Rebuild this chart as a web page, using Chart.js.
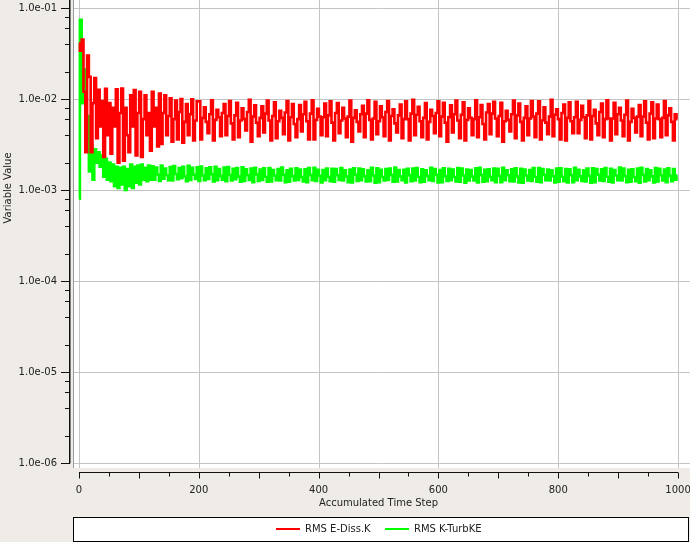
<!DOCTYPE html>
<html>
<head>
<meta charset="utf-8">
<script src="https://cdn.jsdelivr.net/npm/chart.js@4"></script>
<style>
  html, body { margin: 0; padding: 0; background: #efebe7; }
  canvas { display: block; }
</style>
</head>
<body>
<canvas id="residuals" width="690" height="542"></canvas>
<script>
// sampled every STEP time steps, values in units of 1e-3
const STEP = 3;
const UNIT = 1e-3;

const eDissK = [
  41, 34, 45, 12, 2.6, 30, 17.5, 2.6, 9, 17, 3.7, 12.6, 5, 9.5, 2.3,
  12.9, 4, 9, 2.5, 8, 5, 12.8, 2.0, 7, 13, 2.1, 8, 4, 2.6, 11,
  5, 12.5, 2.4, 7, 12, 2.3, 6, 11, 4, 7, 2.7, 12, 5, 8, 3,
  11.5, 3.2, 7, 11, 4, 6.5,
  10.2, 3.4, 6.0, 9.6, 3.6, 7.2, 10.0, 3.3, 5.6, 8.8, 4.0, 6.8, 9.9, 3.5, 5.8, 9.4,
  9.4, 3.6, 6.2, 8.1, 5.6, 4.2, 6.8,
  9.7, 3.5, 5.9, 7.6, 6.3, 3.9, 7.0,
  8.8, 4.0, 6.5, 9.5, 5.4, 3.6, 6.6,
  9.1, 3.8, 5.8, 7.9, 6.0, 4.5, 7.2,
  9.8, 3.4, 6.4, 8.5, 5.5, 3.9, 6.2,
  8.3, 4.3, 6.9, 9.6, 5.8, 3.5, 6.5,
  9.2, 3.7, 5.7, 7.4, 6.2, 4.1, 7.1,
  9.5, 3.5, 6.3, 8.8, 5.3, 3.8, 6.0,
  8.6, 4.4, 6.8, 9.3, 5.7, 3.6, 6.9,
  9.7, 3.6, 5.9, 7.8, 6.4, 4.0, 6.3,
  8.9, 3.9, 6.6, 9.4, 5.5, 3.5, 7.0,
  9.0, 4.2, 5.8, 8.0, 6.1, 3.8, 6.4,
  9.6, 3.4, 6.2, 7.5, 5.6, 4.4, 6.8,
  8.4, 3.8, 6.9, 9.7, 5.9, 3.6, 6.1,
  9.3, 4.1, 5.7, 8.3, 6.3, 3.9, 7.2,
  9.5, 3.5, 6.5, 7.7, 5.4, 4.3, 6.6,
  8.7, 3.7, 6.0, 9.4, 6.0, 3.5, 6.9,
  9.8, 4.0, 6.7, 8.2, 5.7, 3.8, 6.2,
  9.0, 3.6, 5.6, 7.6, 6.5, 4.2, 7.0,
  9.4, 3.9, 6.4, 9.1, 5.5, 3.4, 6.3,
  8.5, 4.3, 6.8, 9.6, 5.8, 3.7, 6.7,
  9.2, 3.5, 5.9, 7.9, 6.2, 4.0, 6.0,
  9.7, 3.8, 6.3, 8.6, 5.3, 3.6, 7.1,
  8.8, 4.1, 6.9, 9.3, 6.1, 3.9, 6.5,
  9.1, 3.4, 5.7, 7.4, 5.9, 4.4, 6.8,
  9.6, 3.7, 6.6, 8.9, 5.6, 3.5, 6.2,
  8.3, 4.0, 6.1, 9.5, 6.4, 3.8, 6.9,
  9.4, 3.6, 5.8, 8.1, 5.5, 4.1, 6.4,
  9.8, 3.9, 6.7, 7.7, 6.0, 3.6, 7.0,
  8.7, 3.5, 6.2, 9.2, 5.7, 4.2, 6.3,
  9.3, 4.2, 5.9, 8.4, 6.3, 3.7, 6.6,
  9.5, 3.6, 6.5, 7.6, 5.4, 4.0, 7.2,
  8.9, 3.8, 6.0, 9.7, 6.1, 3.5, 6.1,
  9.1, 4.1, 6.8, 8.0, 5.8, 3.9, 6.7,
  9.6, 3.5, 5.6, 7.8, 6.2, 4.3, 6.4,
  8.6, 3.9, 6.4, 9.4, 5.5, 3.6, 6.9,
  9.2, 3.7, 6.1, 8.7, 6.0, 3.8, 6.2,
  9.5, 4.0, 6.6, 7.9, 5.6, 3.5, 6.8,
  6.0
];

const kTurbKE = [
  0.8, 74, 9, 21, 3.0, 6.5, 1.6, 3.0, 1.3, 2.8, 2.0, 2.6, 1.8, 2.4, 1.4,
  2.2, 1.3, 2.0, 1.25, 1.9, 1.1, 1.8, 1.05, 1.75, 1.15, 1.8, 1.0, 1.7, 1.1, 1.9,
  1.05, 1.8, 1.2, 1.85, 1.15, 1.9, 1.3, 1.75, 1.25, 1.85, 1.3,
  1.82, 1.30, 1.76, 1.48, 1.26,  1.85, 1.33, 1.72, 1.45, 1.28,  1.79, 1.27, 1.83, 1.50, 1.31,
  1.74, 1.35, 1.80, 1.42, 1.25,  1.84, 1.29, 1.75, 1.47, 1.32,  1.78, 1.26, 1.81, 1.44, 1.28,
  1.73, 1.32, 1.77, 1.49, 1.24,  1.80, 1.28, 1.70, 1.43, 1.30,  1.76, 1.25, 1.79, 1.46, 1.27,
  1.71, 1.31, 1.74, 1.41, 1.23,  1.77, 1.26, 1.69, 1.45, 1.29,  1.72, 1.22, 1.75, 1.48, 1.26,
  1.68, 1.29, 1.73, 1.40, 1.23,  1.74, 1.24, 1.66, 1.44, 1.28,  1.70, 1.27, 1.76, 1.47, 1.22,
  1.65, 1.23, 1.71, 1.42, 1.27,  1.73, 1.29, 1.68, 1.39, 1.24,  1.69, 1.22, 1.74, 1.46, 1.28,
  1.75, 1.26, 1.67, 1.43, 1.21,  1.66, 1.28, 1.72, 1.40, 1.25,  1.71, 1.23, 1.70, 1.45, 1.29,
  1.74, 1.27, 1.64, 1.41, 1.22,  1.68, 1.21, 1.73, 1.47, 1.26,  1.72, 1.28, 1.69, 1.42, 1.24,
  1.65, 1.25, 1.75, 1.44, 1.20,  1.73, 1.22, 1.67, 1.39, 1.27,  1.70, 1.29, 1.72, 1.46, 1.23,
  1.76, 1.24, 1.66, 1.41, 1.28,  1.67, 1.21, 1.71, 1.45, 1.25,  1.72, 1.27, 1.74, 1.40, 1.22,
  1.69, 1.23, 1.65, 1.43, 1.28,  1.75, 1.26, 1.70, 1.47, 1.21,  1.66, 1.22, 1.73, 1.42, 1.26,
  1.71, 1.28, 1.68, 1.39, 1.24,  1.74, 1.23, 1.72, 1.44, 1.20,  1.68, 1.27, 1.66, 1.41, 1.27,
  1.73, 1.21, 1.75, 1.46, 1.23,  1.67, 1.25, 1.69, 1.40, 1.28,  1.72, 1.22, 1.71, 1.43, 1.22,
  1.75, 1.28, 1.64, 1.45, 1.25,  1.69, 1.24, 1.73, 1.41, 1.21,  1.71, 1.20, 1.68, 1.44, 1.27,
  1.66, 1.26, 1.74, 1.39, 1.23,  1.74, 1.22, 1.70, 1.46, 1.28,  1.68, 1.27, 1.65, 1.42, 1.21,
  1.72, 1.23, 1.73, 1.40, 1.25,  1.70, 1.21, 1.69, 1.45, 1.22,  1.75, 1.28, 1.67, 1.41, 1.26,
  1.65, 1.24, 1.72, 1.43, 1.20,  1.73, 1.22, 1.70, 1.47, 1.27,  1.69, 1.26, 1.74, 1.40, 1.23,
  1.71, 1.21, 1.66, 1.44, 1.28,  1.76, 1.27, 1.72, 1.42, 1.22,  1.67, 1.23, 1.69, 1.39, 1.25,
  1.72, 1.20, 1.75, 1.46, 1.24,  1.70, 1.28, 1.65, 1.41, 1.21,  1.74, 1.24, 1.71, 1.45, 1.27,
  1.68, 1.22, 1.73, 1.43, 1.25,
  1.70, 1.30, 1.44
];

const seriesNames = ['RMS E-Diss.K', 'RMS K-TurbKE'];
const seriesColors = ['#ff0000', '#00ff00'];

const yDecades = [1e-1, 1e-2, 1e-3, 1e-4, 1e-5, 1e-6];
const yTickLabels = ['1.0e-01', '1.0e-02', '1.0e-03', '1.0e-04', '1.0e-05', '1.0e-06'];
const yMinorMultipliers = [2, 4, 6, 8];
const xTickLabels = [0, 200, 400, 600, 800, 1000];
const xMidTicks = [100, 300, 500, 700, 900];
const xMinorTicks = [50, 150, 250, 350, 450, 550, 650, 750, 850, 950];

const xTitle = 'Accumulated Time Step';
const yTitle = 'Variable Value';

const toPoints = vals => vals.map((v, i) => ({ x: i * STEP, y: v * UNIT }));

const FONT = '10px "DejaVu Sans", sans-serif';

const frame = {
    id: 'frame',
    beforeDraw(chart) {
        const g = chart.ctx;
        const a = chart.chartArea;
        const xs = chart.scales.x, ys = chart.scales.y;
        g.save();
        g.fillStyle = '#efebe7';
        g.fillRect(0, 0, chart.width, chart.height);
        g.fillStyle = '#ffffff';
        g.fillRect(a.left, a.top, a.right - a.left, a.bottom - a.top);

        // grid
        g.strokeStyle = '#c4c4c4';
        g.lineWidth = 1;
        g.beginPath();
        yDecades.forEach(v => {
            const y = Math.round(ys.getPixelForValue(v)) + 0.5;
            g.moveTo(a.left, y);
            g.lineTo(a.right, y);
        });
        xTickLabels.forEach(v => {
            const x = Math.round(xs.getPixelForValue(v)) + 0.5;
            g.moveTo(x, a.top);
            g.lineTo(x, a.bottom);
        });
        g.stroke();

        // plot border on the left
        g.strokeStyle = '#9a9a9a';
        g.beginPath();
        g.moveTo(a.left + 0.5, a.top);
        g.lineTo(a.left + 0.5, a.bottom);
        g.stroke();
        g.restore();
    },
    afterDraw(chart) {
        const g = chart.ctx;
        const a = chart.chartArea;
        const xs = chart.scales.x, ys = chart.scales.y;
        g.save();
        g.font = FONT;
        g.fillStyle = '#222';
        g.strokeStyle = '#111';

        // y axis
        const axisX = a.left - 3;
        const yBottom = Math.round(ys.getPixelForValue(1e-6)) + 0.5;
        g.lineWidth = 1.5;
        g.beginPath();
        g.moveTo(axisX - 0.25, a.top);
        g.lineTo(axisX - 0.25, yBottom);
        g.stroke();
        g.lineWidth = 1;
        g.beginPath();
        yDecades.forEach(d => {
            const y = Math.round(ys.getPixelForValue(d)) + 0.5;
            g.moveTo(axisX - 9, y);
            g.lineTo(axisX, y);
            yMinorMultipliers.forEach(m => {
                const v = d * m;
                if (v > ys.max) return;
                const ym = Math.round(ys.getPixelForValue(v)) + 0.5;
                g.moveTo(axisX - 5, ym);
                g.lineTo(axisX, ym);
            });
        });
        g.stroke();
        g.textAlign = 'right';
        g.textBaseline = 'middle';
        yDecades.forEach((d, i) => {
            g.fillText(yTickLabels[i], axisX - 13, ys.getPixelForValue(d));
        });

        g.save();
        g.translate(8, 188);
        g.rotate(-Math.PI / 2);
        g.textAlign = 'center';
        g.fillText(yTitle, 0, 0);
        g.restore();

        // x axis
        const axisY = a.bottom + 4.5;
        const x0 = xs.getPixelForValue(0), x1 = xs.getPixelForValue(1000);
        g.beginPath();
        g.moveTo(x0, axisY);
        g.lineTo(x1, axisY);
        xTickLabels.concat(xMidTicks).forEach(v => {
            const x = Math.round(xs.getPixelForValue(v)) + 0.5;
            g.moveTo(x, axisY);
            g.lineTo(x, axisY + 6);
        });
        xMinorTicks.forEach(v => {
            const x = Math.round(xs.getPixelForValue(v)) + 0.5;
            g.moveTo(x, axisY);
            g.lineTo(x, axisY + 4);
        });
        g.stroke();
        g.textAlign = 'center';
        xTickLabels.forEach(v => {
            g.fillText(String(v), xs.getPixelForValue(v), a.bottom + 22);
        });
        g.fillText(xTitle, (x0 + x1) / 2, a.bottom + 35);

        // legend
        g.fillStyle = '#ffffff';
        g.fillRect(a.left, 517, a.right - a.left - 1, 24);
        g.strokeStyle = '#000';
        g.lineWidth = 1;
        g.strokeRect(a.left + 0.5, 517.5, a.right - a.left - 2, 24);
        const legendX = [276, 385];
        chart.data.datasets.forEach((ds, i) => {
            g.strokeStyle = ds.borderColor;
            g.lineWidth = 2;
            g.beginPath();
            g.moveTo(legendX[i], 529);
            g.lineTo(legendX[i] + 24, 529);
            g.stroke();
            g.fillStyle = '#222';
            g.textAlign = 'left';
            g.fillText(ds.label, legendX[i] + 29, 529.5);
        });
        g.restore();
    }
};

new Chart(document.getElementById('residuals'), {
    type: 'line',
    data: {
        datasets: [
            {
                label: seriesNames[0],
                data: toPoints(eDissK),
                borderColor: seriesColors[0],
                borderWidth: 2.6,
                borderJoinStyle: 'miter',
                borderCapStyle: 'butt',
                stepped: 'middle',
                pointRadius: 0
            },
            {
                label: seriesNames[1],
                data: toPoints(kTurbKE),
                borderColor: seriesColors[1],
                borderWidth: 2.6,
                borderJoinStyle: 'miter',
                borderCapStyle: 'butt',
                stepped: 'middle',
                pointRadius: 0
            }
        ]
    },
    options: {
        responsive: false,
        animation: false,
        layout: { padding: { left: 73, right: 0, top: 0, bottom: 74 } },
        plugins: {
            legend: { display: false },
            tooltip: { enabled: false }
        },
        scales: {
            x: { type: 'linear', min: -10, max: 1020, display: false },
            y: { type: 'logarithmic', min: 8.8e-7, max: 0.1224, display: false }
        }
    },
    plugins: [frame]
});
</script>
</body>
</html>
